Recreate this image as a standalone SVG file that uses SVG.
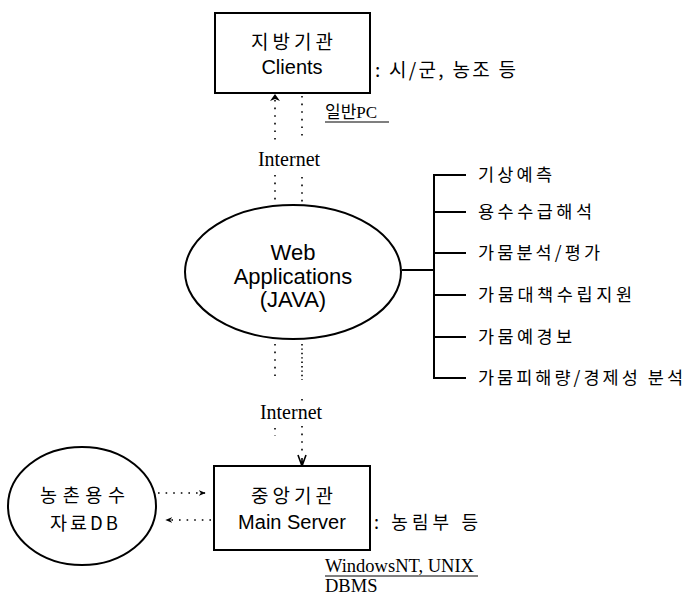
<svg xmlns="http://www.w3.org/2000/svg" width="687" height="598" viewBox="0 0 687 598">
<defs>
<style>
.box{fill:#fff;stroke:#000;stroke-width:2}
.ell{fill:#fff;stroke:#000;stroke-width:2}
.sans{font-family:"Liberation Sans","Noto Sans CJK KR",sans-serif;fill:#000}
.kr{font-family:"Noto Sans CJK KR","Liberation Sans",sans-serif;fill:#000}
.serif{font-family:"Liberation Serif","Noto Sans CJK KR",serif;fill:#000}
.dot{fill:none;stroke:#000;stroke-width:1.6;stroke-dasharray:1.6 6}
.ln{fill:none;stroke:#000;stroke-width:2}
.ul{fill:none;stroke:#000;stroke-width:1.2}
.item{font-size:17.5px}
</style>
<marker id="ah" viewBox="0 0 10 10" refX="9" refY="5" markerWidth="7" markerHeight="7" orient="auto" markerUnits="userSpaceOnUse">
<path d="M0,1 L10,5 L0,9 L3,5 z" fill="#000"/>
</marker>
</defs>

<g id="connectors">
<!-- top: clients <-> web app -->
<line class="dot" x1="275" y1="100" x2="275" y2="140"/>
<path d="M275,94 L270,101 L275,99 L280,101 z" fill="#000"/>
<line class="dot" x1="275" y1="175" x2="275" y2="205"/>
<line class="dot" x1="302" y1="96" x2="302" y2="140"/>
<line class="dot" x1="302" y1="177" x2="302" y2="205"/>
<!-- bottom: web app <-> main server -->
<line class="dot" x1="275" y1="344" x2="275" y2="382"/>
<line class="dot" x1="302" y1="344" x2="302" y2="380" style="stroke-dasharray:1.4 3"/>
<line class="dot" x1="302" y1="399" x2="302" y2="405"/>
<line class="dot" x1="275" y1="428" x2="275" y2="436"/>
<line class="dot" x1="302" y1="426" x2="302" y2="452"/>
<path d="M302,466 L298,455 M302,466 L306,455 M302,458 L302,466" stroke="#000" stroke-width="1.6" fill="none"/>
<!-- right bracket -->
<line class="ln" x1="402" y1="270" x2="434" y2="270"/>
<line class="ln" x1="434" y1="175" x2="434" y2="378"/>
<line class="ln" x1="433" y1="175" x2="466" y2="175"/>
<line class="ln" x1="433" y1="212" x2="466" y2="212"/>
<line class="ln" x1="433" y1="253" x2="466" y2="253"/>
<line class="ln" x1="433" y1="295" x2="466" y2="295"/>
<line class="ln" x1="433" y1="337" x2="466" y2="337"/>
<line class="ln" x1="433" y1="378" x2="466" y2="378"/>
<!-- DB <-> main server -->
<line class="dot" x1="158" y1="493" x2="205" y2="493" marker-end="url(#ah)"/>
<line class="dot" x1="211" y1="520" x2="166" y2="520" marker-end="url(#ah)"/>
</g>

<g id="clients">
<rect class="box" x="215" y="13" width="155" height="80"/>
<text class="kr" x="251" y="49" font-size="19" textLength="82" lengthAdjust="spacing">지방기관</text>
<text class="sans" x="292" y="74" font-size="20" text-anchor="middle">Clients</text>
<text class="kr" x="375" y="77" font-size="19" textLength="141" lengthAdjust="spacing">: 시/군, 농조 등</text>
<text class="serif" x="325" y="118" font-size="17">일반PC</text>
<line class="ul" x1="325" y1="122" x2="389" y2="122"/>
</g>

<g id="internet-top">
<text class="serif" x="289" y="166" font-size="20" text-anchor="middle">Internet</text>
</g>

<g id="webapp">
<ellipse class="ell" cx="293" cy="272" rx="108" ry="67"/>
<text class="sans" x="293" y="260" font-size="22" text-anchor="middle">Web</text>
<text class="sans" x="293" y="284" font-size="22" text-anchor="middle">Applications</text>
<text class="sans" x="293" y="307" font-size="22" text-anchor="middle">(JAVA)</text>
</g>

<g id="functions">
<text class="kr item" x="478" y="181" textLength="74" lengthAdjust="spacing">기상예측</text>
<text class="kr item" x="478" y="218" textLength="114" lengthAdjust="spacing">용수수급해석</text>
<text class="kr item" x="478" y="259" textLength="122" lengthAdjust="spacing">가뭄분석/평가</text>
<text class="kr item" x="478" y="301" textLength="154" lengthAdjust="spacing">가뭄대책수립지원</text>
<text class="kr item" x="478" y="343" textLength="94" lengthAdjust="spacing">가뭄예경보</text>
<text class="kr item" x="478" y="384" textLength="205" lengthAdjust="spacing">가뭄피해량/경제성 분석</text>
</g>

<g id="internet-bottom">
<text class="serif" x="291" y="419" font-size="20" text-anchor="middle">Internet</text>
</g>

<g id="db">
<ellipse class="ell" cx="82" cy="506" rx="74" ry="59"/>
<text class="kr" x="40" y="502" font-size="18.5" textLength="85" lengthAdjust="spacing">농촌용수</text>
<text class="kr" x="50" y="530" font-size="18.5" textLength="68" lengthAdjust="spacing">자료DB</text>
</g>

<g id="mainserver">
<rect class="box" x="214" y="466" width="156" height="84"/>
<text class="kr" x="251" y="503" font-size="19" textLength="82" lengthAdjust="spacing">중앙기관</text>
<text class="sans" x="292" y="529" font-size="20" text-anchor="middle">Main Server</text>
<text class="kr" x="374" y="529" font-size="18" textLength="104" lengthAdjust="spacing">: 농림부 등</text>
<text class="serif" x="325" y="572" font-size="18.5">WindowsNT, UNIX</text>
<line class="ul" x1="325" y1="576" x2="478" y2="576"/>
<text class="serif" x="325" y="592" font-size="18.5">DBMS</text>
</g>
</svg>
